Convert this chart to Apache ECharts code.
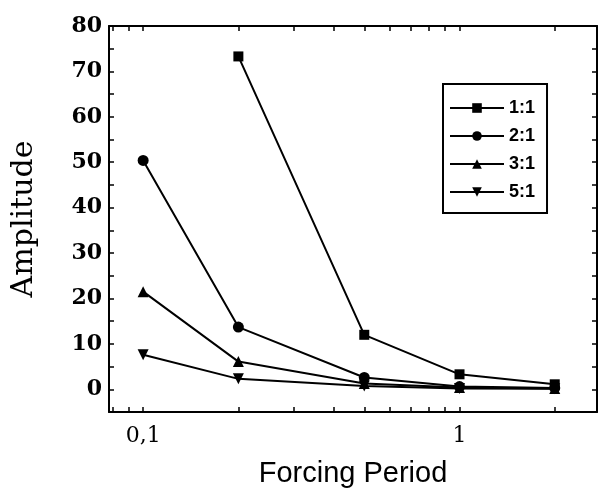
<!DOCTYPE html>
<html>
<head>
<meta charset="utf-8">
<script src="https://cdn.jsdelivr.net/npm/echarts@6/dist/echarts.min.js"></script>
<style>
  html, body { margin: 0; padding: 0; background: #fff; }
  #chart { width: 599px; height: 493px; }
</style>
</head>
<body>
<div id="chart"></div>
<script>
// forcing periods (x, log scale)
var periods = [0.1, 0.2, 0.5, 1, 2];
// amplitudes per ratio, null = no point
var amp11 = [null, 73.3, 12.0, 3.3, 1.1];
var amp21 = [50.4, 13.7, 2.6, 0.6, 0.3];
var amp31 = [21.5, 6.1, 1.3, 0.4, 0.2];
var amp51 = [7.6, 2.3, 0.7, 0.2, 0.1];
var ratioNames = ['1:1', '2:1', '3:1', '5:1'];
var xLabelValues = [0.1, 1];
var xTickValues = [0.08, 0.09, 0.1, 0.2, 0.3, 0.4, 0.5, 0.6, 0.7, 0.8, 0.9, 1, 2];

var serif = '"DejaVu Serif", "Liberation Serif", serif';
var sans = '"Liberation Sans", Arial, sans-serif';

function pairs(vals) {
  var out = [];
  for (var i = 0; i < periods.length; i++) {
    if (vals[i] != null) out.push([periods[i], vals[i]]);
  }
  return out;
}

function lineSeries(name, vals, symbol, rotate) {
  return {
    name: name,
    type: 'line',
    data: pairs(vals),
    symbol: symbol,
    symbolRotate: rotate || 0,
    symbolSize: symbol === 'rect' ? 10 : 11,
    lineStyle: { color: '#000', width: 2 },
    itemStyle: { color: '#000' },
    animation: false
  };
}

var chart = echarts.init(document.getElementById('chart'));

var xBase = {
  type: 'log',
  logBase: 10,
  min: 0.078,
  max: 2.72,
  splitLine: { show: false },
  axisLine: { show: true, onZero: false, lineStyle: { color: '#000', width: 2 } }
};

chart.setOption({
  animation: false,
  grid: { left: 109, right: 2, top: 26, bottom: 80 },
  legend: {
    orient: 'vertical',
    left: 443,
    top: 84,
    itemWidth: 54,
    itemHeight: 12,
    itemGap: 10,
    padding: [15, 12, 12, 6],
    borderColor: '#000',
    borderWidth: 2,
    data: ratioNames,
    textStyle: { fontFamily: sans, fontWeight: 'bold', fontSize: 18, color: '#000' }
  },
  xAxis: [
    Object.assign({}, xBase, {
      position: 'bottom',
      name: 'Forcing Period',
      nameLocation: 'middle',
      nameGap: 47,
      nameTextStyle: { fontFamily: sans, fontSize: 29, color: '#000' },
      axisTick: { show: true, inside: true, length: 5, lineStyle: { color: '#000', width: 1.5 }, customValues: xTickValues },
      axisLabel: {
        customValues: xLabelValues,
        fontFamily: serif, fontSize: 22, color: '#000', margin: 13,
        formatter: function (v) { return String(v).replace('.', ','); }
      }
    }),
    Object.assign({}, xBase, {
      position: 'top',
      axisTick: { show: true, inside: true, length: 5, lineStyle: { color: '#000', width: 1.5 }, customValues: xTickValues },
      axisLabel: { show: false }
    })
  ],
  yAxis: [
    {
      type: 'value',
      position: 'left',
      min: -5,
      max: 80,
      interval: 5,
      name: 'Amplitude',
      nameLocation: 'middle',
      nameGap: 70,
      nameTextStyle: { fontFamily: serif, fontSize: 30, color: '#000' },
      splitLine: { show: false },
      axisLine: { show: true, onZero: false, lineStyle: { color: '#000', width: 2 } },
      axisTick: { show: true, inside: true, length: 5, lineStyle: { color: '#000', width: 1.5 } },
      axisLabel: {
        fontFamily: serif, fontWeight: 'bold', fontSize: 22, color: '#000', margin: 7,
        formatter: function (v) { return v % 10 === 0 ? String(v) : ''; }
      }
    },
    {
      type: 'value',
      position: 'right',
      min: -5,
      max: 80,
      interval: 5,
      splitLine: { show: false },
      axisLine: { show: true, onZero: false, lineStyle: { color: '#000', width: 2 } },
      axisTick: { show: true, inside: true, length: 5, lineStyle: { color: '#000', width: 1.5 } },
      axisLabel: { show: false }
    }
  ],
  series: [
    lineSeries(ratioNames[0], amp11, 'rect'),
    lineSeries(ratioNames[1], amp21, 'circle'),
    lineSeries(ratioNames[2], amp31, 'triangle'),
    lineSeries(ratioNames[3], amp51, 'triangle', 180)
  ]
});
</script>
</body>
</html>
